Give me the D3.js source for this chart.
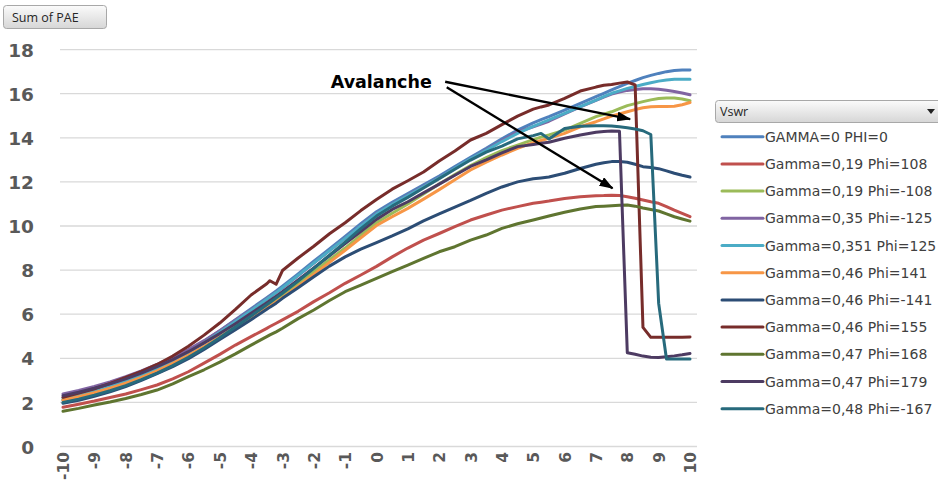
<!DOCTYPE html>
<html><head><meta charset="utf-8">
<script src="https://cdn.jsdelivr.net/npm/d3@7"></script>
<style>body{margin:0;background:#fff;} svg{display:block;}</style>
</head><body><svg id="c" width="938" height="485"></svg>
<script>
// ---------- DATA ----------
const xValues = [-10,-9.5,-9,-8.5,-8,-7.5,-7,-6.5,-6,-5.5,-5,-4.5,-4,-3.5,-3.4,-3.2,-3,-2.5,-2,-1.5,-1,-0.5,0,0.5,1,1.5,2,2.5,3,3.5,4,4.5,5,5.25,5.5,6,6.5,7,7.25,7.5,7.75,8,8.25,8.5,8.75,9,9.25,9.5,9.75,10];

const seriesNames = ["GAMMA=0 PHI=0","Gamma=0,19 Phi=108","Gamma=0,19 Phi=-108","Gamma=0,35 Phi=-125","Gamma=0,351 Phi=125","Gamma=0,46 Phi=141","Gamma=0,46 Phi=-141","Gamma=0,46 Phi=155","Gamma=0,47 Phi=168","Gamma=0,47 Phi=179","Gamma=0,48 Phi=-167"];
const seriesColors = ["#4F81BD","#C0504D","#9BBB59","#8064A2","#4BACC6","#F79646","#2C4D75","#772C2A","#5F7530","#4D3B62","#276A7C"];

const g0_p0 = [2.2,2.38,2.58,2.8,3.05,3.33,3.63,3.97,4.35,4.77,5.25,5.75,6.25,6.75,6.85,7.05,7.27,7.83,8.4,8.96,9.53,10.1,10.65,11.07,11.47,11.87,12.27,12.7,13.12,13.52,13.95,14.35,14.68,14.82,14.96,15.26,15.56,15.87,16.02,16.17,16.32,16.47,16.6,16.73,16.83,16.92,17.0,17.05,17.07,17.08];
const g019_p108 = [1.78,1.92,2.06,2.22,2.38,2.58,2.79,3.07,3.39,3.78,4.18,4.6,4.98,5.36,5.44,5.59,5.74,6.13,6.57,6.97,7.4,7.78,8.17,8.6,9.0,9.36,9.66,9.97,10.27,10.5,10.72,10.88,11.03,11.08,11.13,11.25,11.33,11.37,11.38,11.4,11.38,11.33,11.26,11.18,11.1,11.03,10.88,10.72,10.57,10.42];
const g019_pm108 = [2.12,2.28,2.46,2.66,2.89,3.15,3.44,3.76,4.12,4.52,4.97,5.43,5.9,6.38,6.48,6.67,6.87,7.4,7.93,8.47,9.0,9.58,10.15,10.58,11.0,11.45,11.9,12.33,12.74,13.1,13.42,13.67,13.92,14.03,14.13,14.35,14.65,14.96,15.07,15.18,15.32,15.46,15.55,15.64,15.72,15.78,15.8,15.8,15.76,15.68];
const g035_pm125 = [2.38,2.54,2.72,2.93,3.17,3.43,3.72,4.04,4.4,4.8,5.25,5.72,6.2,6.7,6.8,7.0,7.2,7.75,8.32,8.88,9.45,10.02,10.58,11.0,11.4,11.8,12.2,12.62,13.05,13.45,13.87,14.27,14.5,14.62,14.75,15.08,15.4,15.7,15.85,15.98,16.07,16.15,16.19,16.22,16.22,16.2,16.16,16.1,16.03,15.95];
const g0351_p125 = [2.1,2.28,2.48,2.7,2.95,3.23,3.54,3.88,4.27,4.7,5.18,5.67,6.17,6.68,6.78,6.98,7.2,7.76,8.32,8.88,9.44,10.0,10.55,10.98,11.38,11.78,12.18,12.62,13.05,13.43,13.83,14.2,14.52,14.67,14.81,15.11,15.41,15.71,15.87,16.02,16.13,16.24,16.33,16.42,16.5,16.57,16.62,16.65,16.66,16.65];
const g046_p141 = [2.1,2.26,2.44,2.64,2.87,3.13,3.43,3.77,4.14,4.53,4.95,5.38,5.82,6.28,6.37,6.55,6.75,7.27,7.8,8.35,8.9,9.46,10.02,10.42,10.8,11.22,11.65,12.1,12.54,12.9,13.22,13.52,13.78,13.88,13.98,14.2,14.5,14.73,14.86,14.99,15.08,15.18,15.28,15.36,15.41,15.42,15.42,15.43,15.5,15.6];
const g046_pm141 = [1.96,2.1,2.28,2.48,2.72,3.0,3.3,3.62,3.98,4.4,4.85,5.3,5.75,6.22,6.32,6.5,6.72,7.2,7.7,8.18,8.6,8.95,9.25,9.55,9.87,10.23,10.55,10.86,11.16,11.48,11.77,12.0,12.14,12.18,12.22,12.39,12.61,12.8,12.87,12.92,12.92,12.89,12.8,12.69,12.65,12.6,12.5,12.39,12.3,12.22];
const g046_p155 = [2.23,2.42,2.62,2.86,3.13,3.41,3.72,4.1,4.55,5.05,5.6,6.22,6.87,7.38,7.52,7.36,7.98,8.55,9.08,9.65,10.15,10.7,11.2,11.67,12.05,12.45,12.95,13.4,13.9,14.2,14.6,14.98,15.3,15.4,15.49,15.79,16.12,16.3,16.38,16.42,16.48,16.53,16.4,5.4,4.95,4.95,4.95,4.96,4.96,4.97];
const g047_p168 = [1.6,1.73,1.88,2.02,2.18,2.36,2.56,2.84,3.17,3.48,3.83,4.2,4.6,4.98,5.06,5.2,5.36,5.8,6.19,6.62,7.02,7.32,7.62,7.93,8.23,8.53,8.83,9.06,9.36,9.59,9.89,10.1,10.27,10.36,10.45,10.62,10.77,10.88,10.9,10.92,10.94,10.95,10.9,10.82,10.75,10.68,10.55,10.42,10.32,10.22];
const g047_p179 = [2.3,2.46,2.64,2.84,3.07,3.33,3.62,3.94,4.3,4.7,5.12,5.57,6.04,6.52,6.62,6.82,7.02,7.55,8.1,8.65,9.2,9.75,10.3,10.75,11.1,11.5,11.9,12.3,12.7,13.0,13.32,13.6,13.7,13.75,13.8,13.98,14.13,14.25,14.29,14.31,14.3,4.25,4.18,4.1,4.05,4.04,4.07,4.11,4.16,4.22];
const g048_pm167 = [2.0,2.15,2.33,2.53,2.76,3.03,3.33,3.67,4.05,4.47,4.93,5.42,5.92,6.43,6.53,6.74,6.95,7.5,8.08,8.68,9.27,9.88,10.45,10.9,11.3,11.72,12.15,12.57,12.99,13.35,13.62,13.95,14.1,14.2,13.95,14.42,14.52,14.55,14.55,14.53,14.5,14.46,14.4,14.32,14.15,6.5,3.97,3.97,3.97,3.97];

const xTickLabels = ["-10","-9","-8","-7","-6","-5","-4","-3","-2","-1","0","1","2","3","4","5","6","7","8","9","10"];
const yTickValues = [0,2,4,6,8,10,12,14,16,18];

const fieldButtonText = "Sum of PAE";
const legendTitle = "Vswr";
const annotationText = "Avalanche";
const annotationAnchor = [-1.46, 16.26];
const arrowFrom = [[2.19,16.54],[2.24,16.29]];
const arrowTo = [[8.09,14.85],[7.53,11.71]];

// ---------- CHART ----------
const allSeries = [g0_p0,g019_p108,g019_pm108,g035_pm125,g0351_p125,g046_p141,g046_pm141,g046_p155,g047_p168,g047_p179,g048_pm167];
const svg = d3.select("#c");
const x = d3.scaleLinear().domain([-10,10]).range([63,690]);
const y = d3.scaleLinear().domain([0,18]).range([446.5,49.6]);

const defs = svg.append("defs");
const grad = defs.append("linearGradient").attr("id","btn").attr("x1",0).attr("y1",0).attr("x2",0).attr("y2",1);
grad.append("stop").attr("offset","0%").attr("stop-color","#fbfbfb");
grad.append("stop").attr("offset","100%").attr("stop-color","#d6d6d6");
defs.append("marker").attr("id","arr").attr("markerUnits","userSpaceOnUse")
  .attr("viewBox","0 0 14 10").attr("refX",13).attr("refY",5)
  .attr("markerWidth",14).attr("markerHeight",10).attr("orient","auto")
  .append("path").attr("d","M0,0 L14,5 L0,10 Z").attr("fill","#000");

// gridlines
svg.append("g").selectAll("line").data(yTickValues).join("line")
  .attr("x1",60).attr("x2",697)
  .attr("y1",d=>y(d)).attr("y2",d=>y(d))
  .attr("stroke","#D9D9D9").attr("stroke-width",1.3);

// y axis labels
const yAxis = d3.axisLeft(y).tickValues(yTickValues).tickSize(0).tickPadding(0);
const ya = svg.append("g").attr("transform","translate(34,0)").call(yAxis);
ya.select(".domain").remove();
ya.selectAll("text").attr("font-family","DejaVu Sans").attr("font-weight","bold")
  .attr("font-size","18.5px").attr("fill","#595959").attr("text-anchor","end").attr("dy","0.36em");

// x axis labels (rotated)
const xa = svg.append("g").attr("transform","translate(0,452)")
  .call(d3.axisBottom(x).tickValues(d3.range(-10,11)).tickSize(0).tickFormat((d,i)=>xTickLabels[i]));
xa.select(".domain").remove();
xa.selectAll("text").attr("font-family","DejaVu Sans").attr("font-weight","bold")
  .attr("font-size","15.5px").attr("fill","#595959")
  .attr("transform","rotate(-90)").attr("text-anchor","end")
  .attr("x",0).attr("y",0).attr("dx",0).attr("dy","0.36em");

// lines
const line = d3.line().x((d,i)=>x(xValues[i])).y(d=>y(d));
svg.append("g").selectAll("path").data(allSeries).join("path")
  .attr("d",d=>line(d)).attr("fill","none")
  .attr("stroke",(d,i)=>seriesColors[i]).attr("stroke-width",3)
  .attr("stroke-linejoin","round").attr("stroke-linecap","round");

// annotation
svg.append("text").attr("x",x(annotationAnchor[0])).attr("y",y(annotationAnchor[1]))
  .attr("font-family","DejaVu Sans").attr("font-weight","bold").attr("font-size","17.5px")
  .attr("fill","#000").text(annotationText);
svg.append("g").selectAll("line").data(arrowFrom).join("line")
  .attr("x1",d=>x(d[0])).attr("y1",d=>y(d[1]))
  .attr("x2",(d,i)=>x(arrowTo[i][0])).attr("y2",(d,i)=>y(arrowTo[i][1]))
  .attr("stroke","#000").attr("stroke-width",2.4).attr("marker-end","url(#arr)");

// field button
const fb = svg.append("g");
fb.append("rect").attr("x",3.5).attr("y",5.5).attr("width",103).attr("height",23).attr("rx",3)
  .attr("fill","url(#btn)").attr("stroke","#a8a8a8");
fb.append("text").attr("x",12).attr("y",21.5).attr("font-family","Open Sans").attr("font-size","12.5px")
  .attr("fill","#262626").text(fieldButtonText);

// legend
const lg = svg.append("g");
lg.append("rect").attr("x",715.5).attr("y",100.5).attr("width",230).attr("height",22).attr("rx",3)
  .attr("fill","url(#btn)").attr("stroke","#a8a8a8");
lg.append("text").attr("x",720).attr("y",116).attr("font-family","Open Sans").attr("font-size","12.5px")
  .attr("fill","#262626").text(legendTitle);
lg.append("path").attr("d","M927,109 L935,109 L931,114 Z").attr("fill","#222");
const items = lg.selectAll("g.item").data(seriesNames).join("g").attr("class","item")
  .attr("transform",(d,i)=>`translate(0,${136.7 + i*27.2})`);
items.append("line").attr("x1",722).attr("x2",763).attr("y1",0).attr("y2",0)
  .attr("stroke",(d,i)=>seriesColors[i]).attr("stroke-width",3).attr("stroke-linecap","round");
items.append("text").attr("x",765).attr("y",0).attr("dy","0.36em")
  .attr("font-family","DejaVu Sans").attr("font-size","14px").attr("fill","#404040").text(d=>d);
</script>
</body></html>
